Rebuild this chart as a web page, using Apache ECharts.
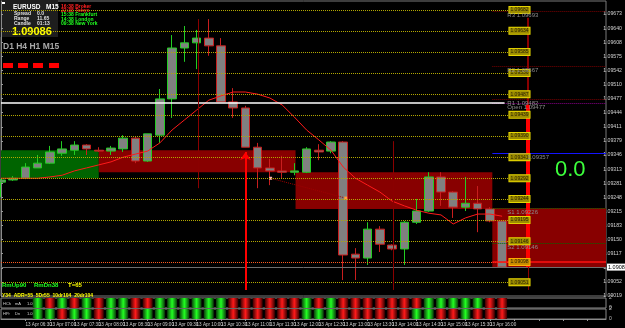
<!DOCTYPE html>
<html>
<head>
<meta charset="utf-8">
<script src="https://cdn.jsdelivr.net/npm/echarts@6.0.0/dist/echarts.min.js"></script>
<style>
html, body { margin: 0; padding: 0; background: #000; }
#chart { width: 625px; height: 328px; }
</style>
</head>
<body>
<div id="chart"></div>
<script>
// EURUSD M15, 13 Apr 06:00 .. 16:15  -> [open, close, low, high]
const candles = [
  [1.09283, 1.09288, 1.09248, 1.09290],
  [1.09288, 1.09292, 1.09286, 1.09297],
  [1.09292, 1.09318, 1.09290, 1.09327],
  [1.09316, 1.09327, 1.09316, 1.09346],
  [1.09327, 1.09353, 1.09325, 1.09367],
  [1.09350, 1.09360, 1.09344, 1.09378],
  [1.09357, 1.09369, 1.09346, 1.09378],
  [1.09369, 1.09360, 1.09346, 1.09371],
  [1.09357, 1.09355, 1.09353, 1.09364],
  [1.09355, 1.09362, 1.09346, 1.09367],
  [1.09360, 1.09385, 1.09353, 1.09392],
  [1.09385, 1.09332, 1.09327, 1.09388],
  [1.09332, 1.09395, 1.09330, 1.09395],
  [1.09392, 1.09476, 1.09374, 1.09499],
  [1.09476, 1.09594, 1.09432, 1.09624],
  [1.09594, 1.09606, 1.09562, 1.09645],
  [1.09606, 1.09617, 1.09545, 1.09636],
  [1.09617, 1.09599, 1.09576, 1.09661],
  [1.09599, 1.09469, 1.09469, 1.09617],
  [1.09469, 1.09455, 1.09432, 1.09501],
  [1.09455, 1.09364, 1.09364, 1.09460],
  [1.09364, 1.09316, 1.09269, 1.09374],
  [1.09316, 1.09309, 1.09276, 1.09337],
  [1.09309, 1.09306, 1.09292, 1.09344],
  [1.09306, 1.09309, 1.09299, 1.09327],
  [1.09306, 1.09360, 1.09304, 1.09364],
  [1.09357, 1.09353, 1.09334, 1.09371],
  [1.09355, 1.09376, 1.09350, 1.09378],
  [1.09376, 1.09114, 1.09056, 1.09378],
  [1.09116, 1.09107, 1.09056, 1.09130],
  [1.09107, 1.09174, 1.09091, 1.09190],
  [1.09174, 1.09139, 1.09121, 1.09181],
  [1.09137, 1.09128, 1.09125, 1.09139],
  [1.09128, 1.09190, 1.09091, 1.09193],
  [1.09190, 1.09216, 1.09186, 1.09244],
  [1.09216, 1.09295, 1.09214, 1.09306],
  [1.09295, 1.09260, 1.09228, 1.09306],
  [1.09260, 1.09225, 1.09200, 1.09262],
  [1.09225, 1.09234, 1.09216, 1.09295],
  [1.09234, 1.09221, 1.09167, 1.09274],
  [1.09221, 1.09193, 1.09190, 1.09225],
  [1.09193, 1.09086, 1.09084, 1.09195]
]

const maValues = [
  1.09292, 1.09292, 1.09292, 1.09292, 1.09295, 1.09299, 1.09309, 1.09316, 1.09323, 1.09330,
  1.09341, 1.09348, 1.09355, 1.09374, 1.09404, 1.09427, 1.09450, 1.09473, 1.09483, 1.09492,
  1.09492, 1.09487, 1.09478, 1.09462, 1.09434, 1.09404, 1.09381, 1.09357, 1.09318, 1.09292,
  1.09276, 1.09260, 1.09239, 1.09228, 1.09218, 1.09211, 1.09207, 1.09186, 1.09200, 1.09209,
  1.09209, 1.09204
]

const timeLabels = [
  '13 Apr 2020', '13 Apr 06:30', '13 Apr 07:00', '13 Apr 07:30', '13 Apr 08:00',
  '13 Apr 08:30', '13 Apr 09:00', '13 Apr 09:30', '13 Apr 10:00', '13 Apr 10:30',
  '13 Apr 11:00', '13 Apr 11:30', '13 Apr 12:00', '13 Apr 12:30', '13 Apr 13:00',
  '13 Apr 13:30', '13 Apr 14:00', '13 Apr 14:30', '13 Apr 15:00', '13 Apr 15:30',
  '13 Apr 16:00'
]

// right price scale, bottom to top
const priceTicks = [
  '1.09019', '1.09052', '1.09084', '1.09117', '1.09150', '1.09183', '1.09215',
  '1.09248', '1.09281', '1.09313', '1.09346', '1.09379', '1.09411', '1.09444',
  '1.09477', '1.09510', '1.09542', '1.09575', '1.09608', '1.09640', '1.09673'
]

const roundLevels = [
  1.09682, 1.09634, 1.09585, 1.09536, 1.09487, 1.09439, 1.09390,
  1.09341, 1.09292, 1.09244, 1.09195, 1.09146, 1.09098, 1.09051
]

const pivotNames = ['R3 1.09693', 'R2 1.09567', 'R1 1.09482', 'Open 1.09477', 'S1 1.09226', 'S2 1.09146']
const pivotLevels = [1.09680, 1.09552, 1.09476, 1.09466, 1.09223, 1.09142]

// supply / demand boxes: bar index range and price range
const zoneKind = ['demand', 'supply', 'supply', 'supply']
const zoneFrom = [0, 8, 24.1, 40.2]
const zoneTo = [8, 24.1, 40.2, 49.5]
const zoneTop = [1.09357, 1.09357, 1.09306, 1.09223]
const zoneBottom = [1.09292, 1.09306, 1.09221, 1.09084]

// vertical markers
const vlineAt = [16.1, 32.1, 43.1, 43.1, 43.1]
const vlineTop = [1.09661, 1.09378, 1.09664, 1.09462, 1.09086]
const vlineBottom = [1.09269, 1.09033, 1.09462, 1.09086, 1.09033]
const vlineKind = ['thin', 'thin', 'thin', 'bar', 'thin']

const openPrice = 1.09466
const pivotMid = 1.09350
const bidPrice = 1.09086
const lastBar = 41.6

// heat strips ('g' up, 'r' down)
const stripA = [null, null, null, 'g', 'r', 'g', 'r', 'g', 'r', 'g', 'g', 'r', 'r', 'g', 'g', 'g', 'g', 'g', 'g', 'r', 'r',
  'r', 'r', 'r', 'r', 'g', 'r', 'g', 'r', 'r', 'r', 'r', 'r', 'r', 'r', 'g', 'g', 'g', 'g', 'g', 'r', 'r']
const stripB = [null, null, null, 'g', 'g', 'r', 'g', 'g', 'r', 'g', 'g', 'r', 'g', 'g', 'g', 'g', 'g', 'g', 'g', 'r', 'r',
  'r', 'r', 'r', 'r', 'g', 'g', 'g', 'r', 'r', 'r', 'r', 'r', 'r', 'g', 'g', 'r', 'r', 'g', 'r', 'r', 'r']

const FONT = 'Liberation Sans, Arial, sans-serif'

function grad(c) {
  const mid = c === 'g' ? '#22ff22' : '#ff1a1a'
  const edge = c === 'g' ? '#0a3a0a' : '#3a0000'
  return {
    type: 'linear', x: 0, y: 0, x2: 1, y2: 0,
    colorStops: [{ offset: 0, color: edge }, { offset: 0.5, color: mid }, { offset: 1, color: edge }]
  }
}

function stripData(row) {
  return row.map((c, i) => c ? { value: [i, 2], itemStyle: { color: grad(c) } } : null).filter(d => d)
}

function hline(from, to, v, color, type, width, label) {
  return [
    { coord: [from, v], lineStyle: { color: color, type: type, width: width }, label: label || { show: false } },
    { coord: [to, v] }
  ]
}

const levelLines = []
roundLevels.forEach((v, i) => {
  const hot = i === 12
  levelLines.push(hline(0, lastBar, v, hot ? '#ff5a1e' : '#b4a800', 'dotted', 1, {
    show: true, position: 'end', distance: 0, formatter: v.toFixed(5),
    fontSize: 5, fontFamily: FONT, color: '#2a2200',
    backgroundColor: hot ? '#c88a00' : '#9c8c00', borderColor: hot ? '#ffb000' : '#e6d600', borderWidth: 1,
    padding: [1, 1, 0, 1]
  }))
})
pivotLevels.forEach((v, i) => {
  const name = pivotNames[i]
  const color = name[0] === 'R' ? '#7a0000' : name[0] === 'S' ? '#006a00' : '#8a008a'
  levelLines.push(hline(40.2, 49.5, v, color, 'dotted', 1, {
    show: true, position: 'insideStartBottom', distance: 1, formatter: name,
    fontSize: 6, fontFamily: FONT, color: '#8c8c8c', padding: [0, 0, 0, 14]
  }))
})
levelLines.push(hline(0, 41.2, openPrice, '#ffffff', 'solid', 1.5))
levelLines.push(hline(40.2, 49.5, pivotMid, '#1414ff', 'solid', 1, {
  show: true, position: 'insideStartBottom', distance: 1, formatter: '1.09357',
  fontSize: 6, fontFamily: FONT, color: '#8c8c8c', padding: [0, 0, 0, 34]
}))
levelLines.push(hline(40.2, 49.5, roundLevels[12], '#ff1010', 'solid', 1.5))
levelLines.push(hline(0, 49.5, bidPrice, '#6e6e6e', 'solid', 1, {
  show: true, position: 'end', distance: 1, formatter: bidPrice.toFixed(5),
  fontSize: 5.5, fontFamily: FONT, color: '#000', backgroundColor: '#ffffff', padding: [1, 1, 0, 1]
}))

const zoneAreas = zoneKind.map((k, i) => [
  { coord: [zoneFrom[i], zoneTop[i]], itemStyle: { color: k === 'demand' ? '#006400' : '#880000' } },
  { coord: [zoneTo[i], zoneBottom[i]] }
])

const markerLines = vlineAt.map((x, i) => [
  { coord: [x, vlineTop[i]], lineStyle: { color: vlineKind[i] === 'bar' ? '#ff0000' : '#8a0000', width: vlineKind[i] === 'bar' ? 4 : (i === 2 ? 2 : 1), type: 'solid' } },
  { coord: [x, vlineBottom[i]] }
])
markerLines.push([
  { coord: [20, 1.09033], symbol: 'none', lineStyle: { color: '#ff0000', width: 2, type: 'solid' } },
  { coord: [20, 1.09353], symbol: 'arrow' }
])

const chart = echarts.init(document.getElementById('chart'), null, { renderer: 'canvas' })

const txt = (text, x, y, font, fill, extra) => Object.assign({
  type: 'text', x: x, y: y, silent: true,
  style: { text: text, font: font, fill: fill, textVerticalAlign: 'middle', verticalAlign: 'middle' }
}, extra || {})

const graphics = [
  { type: 'rect', shape: { x: 0, y: 0, width: 58, height: 37 }, style: { fill: '#1e1e1e' }, silent: true },
  { type: 'rect', shape: { x: 2, y: 2, width: 3, height: 2 }, style: { fill: '#ffffff' }, silent: true },
  txt('EURUSD', 13, 7, 'bold 6.5px ' + FONT, '#ffffff'),
  txt('M15', 46, 7, 'bold 6.5px ' + FONT, '#ffffff'),
  txt('Spread', 14, 13.5, 'bold 5px ' + FONT, '#e0e0e0'),
  txt('0.0', 37, 13.5, 'bold 5px ' + FONT, '#e0e0e0'),
  txt('Range', 14, 18.5, 'bold 5px ' + FONT, '#e0e0e0'),
  txt('11.65', 37, 18.5, 'bold 5px ' + FONT, '#e0e0e0'),
  txt('Candle', 14, 23.5, 'bold 5px ' + FONT, '#e0e0e0'),
  txt('01:13', 37, 23.5, 'bold 5px ' + FONT, '#e0e0e0'),
  txt('1.09086', 12, 31.5, 'bold 11px ' + FONT, '#ffff00'),
  txt('16:38 Broker', 61, 6.5, 'bold 5px ' + FONT, '#ff2020'),
  txt('22:38 Tokyo', 61, 10.5, 'bold 5px ' + FONT, '#ff2020'),
  txt('15:38 Frankfurt', 61, 15, 'bold 5px ' + FONT, '#20ff20'),
  txt('14:38 London', 61, 19.5, 'bold 5px ' + FONT, '#20ff20'),
  txt('09:38 New York', 61, 24, 'bold 5px ' + FONT, '#20ff20'),
  txt('D1 H4 H1 M15', 3, 47, 'bold 8.5px ' + FONT, '#a8a8a8'),
  { type: 'rect', shape: { x: 3, y: 63, width: 10, height: 5 }, style: { fill: '#ff0000' }, silent: true },
  { type: 'rect', shape: { x: 18, y: 63, width: 10, height: 5 }, style: { fill: '#ff0000' }, silent: true },
  { type: 'rect', shape: { x: 33, y: 63, width: 10, height: 5 }, style: { fill: '#ff0000' }, silent: true },
  { type: 'rect', shape: { x: 49, y: 63, width: 10, height: 5 }, style: { fill: '#ff0000' }, silent: true },
  txt('0.0', 555, 170, '22px ' + FONT, '#3cff3c'),
  txt('RmUp90', 2, 285, 'bold 6px ' + FONT, '#20ff20'),
  txt('RmDn38', 34, 285, 'bold 6px ' + FONT, '#20ff20'),
  txt('T=65', 68, 285, 'bold 6px ' + FONT, '#ffff00'),
  txt('Y34  ADR=55  5Dr55  10dr104  20dr104', 2, 295.5, 'bold 5px ' + FONT, '#ffff00'),
  txt('HCh', 3, 303.5, '4px ' + FONT, '#d0d0d0'),
  txt('mA', 15, 303.5, '4px ' + FONT, '#d0d0d0'),
  txt('1.00', 27, 303.5, '4px ' + FONT, '#d0d0d0'),
  txt('HPr', 3, 314, '4px ' + FONT, '#d0d0d0'),
  txt('Dn', 15, 314, '4px ' + FONT, '#d0d0d0'),
  txt('1.000', 27, 314, '4px ' + FONT, '#d0d0d0')
]

const hiddenX = (gi) => ({ type: 'value', gridIndex: gi, min: 0, max: 49.5, show: false })

chart.setOption({
  backgroundColor: '#000000',
  animation: false,
  grid: [
    { left: 1, right: 19, top: 1, bottom: 32, show: true, borderColor: '#7a7a7a', borderWidth: 1 },
    { left: 1, right: 19, top: 14, bottom: 32 },
    { left: 1, right: 19, top: 298, height: 10, show: true, borderColor: '#8a8a8a', borderWidth: 1 },
    { left: 1, right: 19, top: 309, height: 10, show: true, borderColor: '#8a8a8a', borderWidth: 1 }
  ],
  xAxis: [
    hiddenX(0),
    hiddenX(1),
    hiddenX(2),
    {
      type: 'value', gridIndex: 3, min: 0, max: 49.5, interval: 2,
      splitLine: { show: false },
      axisLine: { show: true, lineStyle: { color: '#8a8a8a' } },
      axisTick: { show: true, length: 2, lineStyle: { color: '#9a9a9a' } },
      axisLabel: {
        show: true, showMaxLabel: false, align: 'left', margin: 3,
        fontSize: 4.6, fontFamily: FONT, color: '#d0d0d0',
        formatter: v => timeLabels[v / 2] || ''
      }
    }
  ],
  yAxis: [
    {
      type: 'value', gridIndex: 0, position: 'right', min: 1.09019, max: 1.09703, scale: true,
      splitLine: { show: false }, axisLabel: { show: false }, axisTick: { show: false },
      axisLine: { show: true, lineStyle: { color: '#8a8a8a' } }
    },
    {
      type: 'category', gridIndex: 1, position: 'right', data: priceTicks, boundaryGap: false,
      axisLine: { show: false },
      axisTick: { show: true, length: 2, lineStyle: { color: '#9a9a9a' } },
      axisLabel: { interval: 0, margin: 3, fontSize: 5.2, fontFamily: FONT, color: '#d0d0d0' }
    },
    {
      type: 'value', gridIndex: 2, position: 'right', min: 0, max: 2, interval: 2,
      splitLine: { show: false }, axisTick: { show: false }, axisLine: { show: false },
      axisLabel: { fontSize: 5, margin: 3, color: '#c0c0c0', fontFamily: FONT }
    },
    {
      type: 'value', gridIndex: 3, position: 'right', min: 0, max: 2, interval: 2,
      splitLine: { show: false }, axisTick: { show: false }, axisLine: { show: false },
      axisLabel: { fontSize: 5, margin: 3, color: '#c0c0c0', fontFamily: FONT }
    }
  ],
  series: [
    {
      name: 'zones', type: 'line', data: [], z: 1, silent: true,
      markArea: { silent: true, data: zoneAreas }
    },
    {
      name: 'levels', type: 'line', data: [], z: 2, silent: true,
      markLine: { silent: true, symbol: ['none', 'none'], data: levelLines }
    },
    {
      name: 'EURUSD', type: 'candlestick', z: 3,
      dimensions: ['t', 'open', 'close', 'low', 'high'],
      encode: { x: 't', y: ['open', 'close', 'low', 'high'] },
      data: candles.map((c, i) => [i, c[0], c[1], c[2], c[3]]),
      barWidth: 9,
      itemStyle: {
        color: '#808080', color0: '#808080',
        borderColor: '#22cc22', borderColor0: '#c81e1e', borderWidth: 1
      }
    },
    {
      name: 'MA', type: 'line', z: 4, showSymbol: false, silent: true,
      data: maValues.map((v, i) => [i, v]),
      lineStyle: { color: '#ff1a1a', width: 1 }
    },
    {
      name: 'swing', type: 'line', z: 4, silent: true,
      data: [
        { value: [22.06, 1.09292], itemStyle: { color: '#ffb0b0' } },
        { value: [28.2, 1.09246], itemStyle: { color: '#ffa040' } }
      ],
      symbol: 'rect', symbolSize: 3,
      lineStyle: { color: '#a00000', width: 1, type: 'dotted' }
    },
    {
      name: 'markers', type: 'line', data: [], z: 5, silent: true,
      markLine: { silent: true, symbol: ['none', 'none'], symbolSize: 8, label: { show: false }, data: markerLines }
    },
    {
      name: 'stripA', type: 'bar', xAxisIndex: 2, yAxisIndex: 2, barWidth: 10, silent: true,
      data: stripData(stripA)
    },
    {
      name: 'stripB', type: 'bar', xAxisIndex: 3, yAxisIndex: 3, barWidth: 10, silent: true,
      data: stripData(stripB)
    }
  ],
  graphic: graphics
})
</script>
</body>
</html>
